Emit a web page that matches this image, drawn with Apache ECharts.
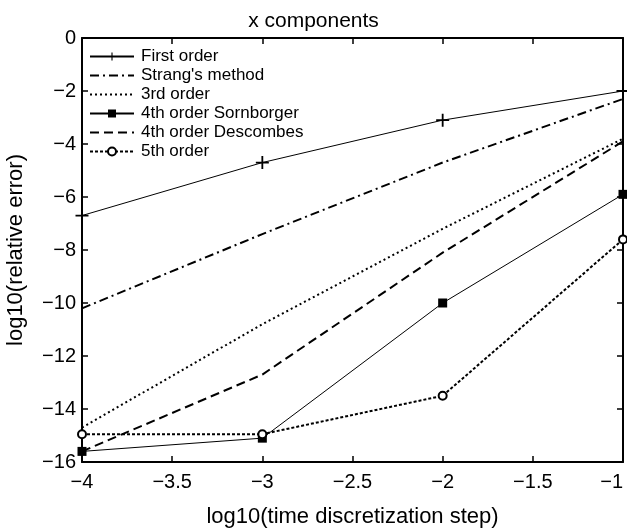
<!DOCTYPE html>
<html>
<head>
<meta charset="utf-8">
<script src="https://cdn.jsdelivr.net/npm/echarts@6/dist/echarts.min.js"></script>
<style>
  html, body { margin: 0; padding: 0; background: #fff; }
</style>
</head>
<body>
<div id="chart" style="width: 627px;height:530px;"></div>
<script>
// values
var steps = [-4, -3, -2, -1];
var firstOrder = [-6.7, -4.7, -3.1, -2.0];
var strang = [-10.2, -7.4, -4.7, -2.3];
var thirdOrder = [-14.7, -10.8, -7.2, -3.8];
var sornborger = [-15.6, -15.1, -10.0, -5.9];
var descombes = [-15.6, -12.7, -8.1, -3.9];
var fifthOrder = [-14.95, -14.95, -13.5, -7.6];
var seriesNames = ['First order', "Strang's method", '3rd order', '4th order Sornborger', '4th order Descombes', '5th order'];
var noMarker = [false, true, true, false, true, false];

function pairs(ys) {
  return steps.map(function (x, i) { return [x, ys[i]]; });
}
function minus(v) {
  return String(v).replace('-', '\u2212');
}

var chart = echarts.init(document.getElementById('chart'));
var font = 'Liberation Sans, Arial, sans-serif';
var plus = 'path://M4.3,0H5.7V4.3H10V5.7H5.7V10H4.3V5.7H0V4.3H4.3Z';

var axisCommon = {
  axisLine: {onZero: false, lineStyle: {color: '#000', width: 2}},
  axisTick: {inside: true, length: 6, lineStyle: {color: '#000', width: 1.5}},
  splitLine: {show: false}
};

// legend entries, hiding the marker for lines drawn without one
var legendData = seriesNames.map(function (n, i) {
  return noMarker[i] ? {name: n, itemStyle: {opacity: 0}} : {name: n};
});

var option = {
  animation: false,
  title: {
    text: 'x components',
    left: 'center',
    top: 6,
    textStyle: {fontFamily: font, fontSize: 21, fontWeight: 'normal', color: '#000'}
  },
  legend: {
    orient: 'vertical',
    left: 89,
    top: 48,
    itemWidth: 44,
    itemHeight: 10,
    itemGap: 2,
    padding: 0,
    textStyle: {fontFamily: font, fontSize: 17, lineHeight: 17, color: '#000', padding: [0, 0, 0, 2]},
    data: legendData
  },
  grid: {left: 82, right: 4, top: 38, bottom: 68, outerBoundsMode: 'none', containLabel: false},
  xAxis: [
    Object.assign({
      type: 'value', min: -4, max: -1, interval: 0.5,
      name: 'log10(time discretization step)',
      nameLocation: 'middle', nameGap: 44,
      nameTextStyle: {fontFamily: font, fontSize: 22, color: '#000'},
      axisLabel: {fontFamily: font, fontSize: 20, color: '#000', margin: 10, formatter: minus, alignMaxLabel: 'right'}
    }, axisCommon),
    Object.assign({
      type: 'value', min: -4, max: -1, interval: 0.5, position: 'top',
      axisLabel: {show: false}
    }, axisCommon)
  ],
  yAxis: [
    Object.assign({
      type: 'value', min: -16, max: 0, interval: 2,
      name: 'log10(relative error)',
      nameLocation: 'middle', nameGap: 55,
      nameTextStyle: {fontFamily: font, fontSize: 22, color: '#000'},
      axisLabel: {fontFamily: font, fontSize: 20, color: '#000', margin: 6, formatter: minus}
    }, axisCommon),
    Object.assign({
      type: 'value', min: -16, max: 0, interval: 2, position: 'right',
      axisLabel: {show: false}
    }, axisCommon)
  ],
  series: [
    {
      name: seriesNames[0], type: 'line', data: pairs(firstOrder),
      symbol: plus, symbolSize: 13,
      lineStyle: {color: '#000', width: 1},
      itemStyle: {color: '#000'}
    },
    {
      name: seriesNames[1], type: 'line', data: pairs(strang),
      symbol: 'none',
      lineStyle: {color: '#000', width: 2, type: [9, 4, 2, 4]},
      itemStyle: {color: '#000'}
    },
    {
      name: seriesNames[2], type: 'line', data: pairs(thirdOrder),
      symbol: 'none',
      lineStyle: {color: '#000', width: 2, type: [2, 3]},
      itemStyle: {color: '#000'}
    },
    {
      name: seriesNames[3], type: 'line', data: pairs(sornborger),
      symbol: 'rect', symbolSize: 9,
      lineStyle: {color: '#000', width: 1},
      itemStyle: {color: '#000'}
    },
    {
      name: seriesNames[4], type: 'line', data: pairs(descombes),
      symbol: 'none',
      lineStyle: {color: '#000', width: 2, type: [9, 5]},
      itemStyle: {color: '#000'}
    },
    {
      name: seriesNames[5], type: 'line', data: pairs(fifthOrder),
      symbol: 'emptyCircle', symbolSize: 8,
      lineStyle: {color: '#000', width: 2, type: [3, 2]},
      itemStyle: {color: '#000', borderColor: '#000', borderWidth: 1}
    }
  ]
};
chart.setOption(option);
</script>
</body>
</html>
